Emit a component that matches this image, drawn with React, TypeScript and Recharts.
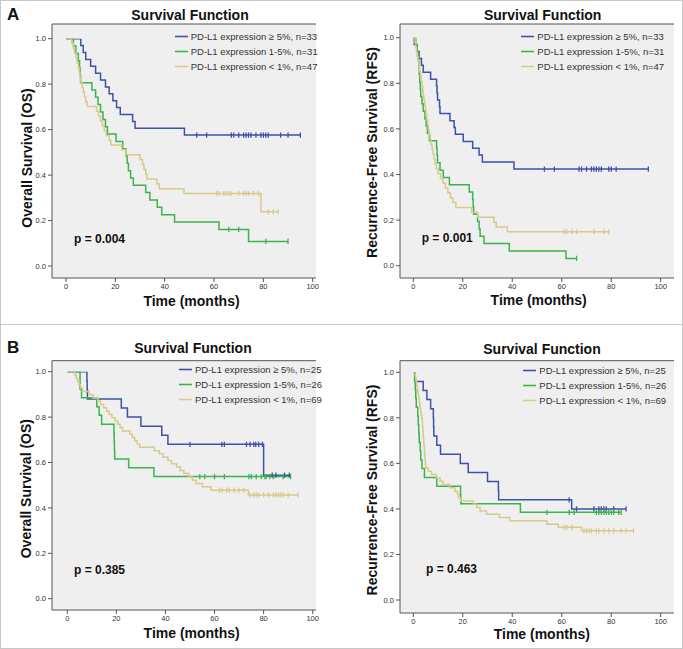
import React from 'react';
import { LineChart, Line, XAxis, YAxis, CartesianGrid, Legend, Label } from 'recharts';

const FONT = '"Liberation Sans", Arial, Helvetica, sans-serif';
const FRAME = '#555555';
const COLORS = ['#3d52a9', '#3cb44b', '#d6cb8d'];

const xTicks = [0, 20, 40, 60, 80, 100];
const yTicks = [0, 0.2, 0.4, 0.6, 0.8, 1.0];

const namesA = ['PD-L1 expression \u2265 5%, n=33', 'PD-L1 expression 1-5%, n=31', 'PD-L1 expression < 1%, n=47'];
const namesB = ['PD-L1 expression \u2265 5%, n=25', 'PD-L1 expression 1-5%, n=26', 'PD-L1 expression < 1%, n=69'];

// A: overall survival, [month, survival] after each event
const aOsHigh = [[0, 1], [6, 0.970], [7, 0.939], [8, 0.909], [10, 0.879], [12, 0.848], [14, 0.818], [16, 0.788], [17.5, 0.758], [19, 0.727], [20.5, 0.697], [22, 0.667], [27, 0.636], [28, 0.606], [48, 0.576]];
const aOsHighCens = [53, 57, 67, 68, 70, 72, 73, 74, 75, 77, 79, 80, 81, 82, 87, 90, 95];
const aOsMid = [[0, 1], [3, 0.968], [4, 0.935], [5, 0.903], [5.5, 0.871], [5.7, 0.839], [5.9, 0.806], [10.5, 0.774], [12, 0.742], [13, 0.710], [14, 0.677], [15, 0.645], [16, 0.613], [16.8, 0.581], [20.3, 0.548], [23, 0.516], [24.3, 0.484], [24.8, 0.452], [25.3, 0.419], [26.2, 0.387], [27.3, 0.355], [32.3, 0.323], [34, 0.290], [37, 0.258], [38.8, 0.226], [44, 0.194], [62, 0.161], [74, 0.108]];
const aOsMidCens = [66, 70, 81, 90];
const aOsLow = [[0, 1], [2.3, 0.979], [3, 0.957], [3.5, 0.936], [4, 0.915], [4.5, 0.894], [5, 0.872], [5.3, 0.851], [5.6, 0.830], [6, 0.809], [6.5, 0.787], [7, 0.766], [7.5, 0.745], [8, 0.723], [8.6, 0.702], [12.4, 0.681], [13.2, 0.660], [14, 0.638], [14.8, 0.617], [15.5, 0.596], [16.3, 0.574], [17.5, 0.553], [18.2, 0.532], [22.6, 0.511], [24.3, 0.489], [30, 0.468], [31, 0.447], [31.6, 0.426], [32.3, 0.404], [32.8, 0.383], [36.8, 0.362], [37.8, 0.340], [47.8, 0.319], [79, 0.239]];
const aOsLowCens = [61, 62, 64, 65, 66, 67, 70, 72, 73, 74, 76, 78, 82, 84, 86];

// A: recurrence-free survival
const aRfsHigh = [[0, 1], [0.3, 0.970], [1.5, 0.939], [2.3, 0.909], [3.3, 0.879], [4, 0.848], [7, 0.818], [9.4, 0.788], [9.6, 0.758], [9.8, 0.727], [10.6, 0.697], [10.8, 0.667], [14.8, 0.636], [16.5, 0.606], [17, 0.576], [20.2, 0.545], [24, 0.515], [26.6, 0.485], [27.9, 0.455], [40.7, 0.424]];
const aRfsHighCens = [53, 57, 67, 68, 70, 72, 73, 74, 75, 76, 79, 80, 82, 95];
const aRfsMid = [[0, 1], [1, 0.968], [1.5, 0.935], [2, 0.903], [2.2, 0.871], [2.4, 0.839], [2.6, 0.806], [2.8, 0.774], [3, 0.742], [3.5, 0.710], [4, 0.677], [4.7, 0.645], [5.2, 0.613], [5.7, 0.581], [6.5, 0.548], [9.4, 0.516], [9.6, 0.484], [9.8, 0.452], [10.8, 0.419], [12.1, 0.387], [14.6, 0.355], [22.6, 0.323], [24, 0.290], [24.2, 0.258], [24.4, 0.226], [26, 0.194], [26.6, 0.161], [27, 0.129], [28.6, 0.097], [38.8, 0.065], [61.7, 0.032]];
const aRfsMidCens = [66];
const aRfsLow = [[0, 1], [0.7, 0.979], [1, 0.957], [1.3, 0.936], [1.6, 0.915], [2, 0.894], [2.3, 0.872], [2.6, 0.851], [2.9, 0.830], [3.2, 0.809], [3.5, 0.787], [3.8, 0.766], [4, 0.745], [4.3, 0.723], [4.6, 0.702], [4.9, 0.681], [5.2, 0.660], [5.5, 0.638], [5.8, 0.617], [6.1, 0.596], [6.4, 0.574], [6.8, 0.553], [7.2, 0.532], [7.6, 0.511], [8, 0.489], [8.4, 0.468], [8.8, 0.447], [9.3, 0.426], [10, 0.404], [11, 0.383], [12, 0.362], [13, 0.340], [14, 0.319], [15, 0.298], [16, 0.277], [17.2, 0.255], [23.6, 0.234], [26, 0.213], [32.6, 0.191], [33.5, 0.170], [38, 0.149]];
const aRfsLowCens = [61, 62, 64, 66, 73, 77, 79];

// B: overall survival
const bOsHigh = [[0, 1], [8, 0.96], [8.1, 0.92], [8.2, 0.88], [22, 0.84], [24.5, 0.80], [30, 0.76], [38.5, 0.72], [41, 0.68], [80, 0.544]];
const bOsHighCens = [50, 63, 64, 73, 74.5, 76, 76.8, 78, 79.5, 83.5, 85, 88.5, 90.5];
const bOsMid = [[0, 1], [5.2, 0.923], [5.8, 0.885], [12, 0.846], [13, 0.808], [14, 0.769], [19, 0.731], [19.1, 0.692], [19.2, 0.654], [19.3, 0.615], [25, 0.577], [35.3, 0.538]];
const bOsMidCens = [54, 56, 60, 64, 74, 75, 77, 79, 80.5, 81, 82.5, 84, 88, 91];
const bOsLow = [[0, 1], [3, 0.986], [3.6, 0.971], [4.2, 0.957], [4.8, 0.942], [5.4, 0.928], [6.2, 0.913], [9, 0.899], [10.5, 0.884], [12.5, 0.870], [13.5, 0.855], [14.8, 0.841], [16, 0.826], [17, 0.812], [18.2, 0.797], [19.5, 0.783], [20.5, 0.768], [21.5, 0.754], [22.5, 0.739], [25.5, 0.725], [26.5, 0.710], [27.5, 0.696], [28.5, 0.681], [29.5, 0.667], [35.5, 0.652], [37.5, 0.638], [39, 0.623], [41, 0.609], [42.5, 0.594], [44.5, 0.580], [46, 0.565], [47.5, 0.551], [49.5, 0.536], [51, 0.522], [52.5, 0.507], [55, 0.493], [58.5, 0.478], [73.8, 0.457]];
const bOsLowCens = [62, 63, 65, 66, 68, 70, 72, 74.5, 76, 77, 78, 80, 82, 84, 85, 86, 87, 88, 90, 94];

// B: recurrence-free survival
const bRfsHigh = [[0, 1], [0.8, 0.96], [4, 0.92], [5.5, 0.88], [7, 0.84], [8.1, 0.80], [8.2, 0.76], [8.3, 0.72], [9.5, 0.68], [11, 0.64], [19, 0.60], [22.2, 0.56], [30, 0.52], [34.4, 0.48], [34.5, 0.44], [64, 0.40]];
const bRfsHighCens = [63, 66, 73, 75, 76, 77, 78, 81, 86];
const bRfsMid = [[0, 1], [0.5, 0.962], [0.8, 0.923], [1, 0.885], [1.2, 0.846], [1.8, 0.808], [2, 0.769], [2.2, 0.731], [2.4, 0.692], [2.8, 0.654], [3, 0.615], [3.5, 0.577], [4.5, 0.538], [9.5, 0.500], [19.1, 0.462], [19.2, 0.423], [43.3, 0.385]];
const bRfsMidCens = [54, 63, 65, 74, 75, 76, 77, 78, 79, 80, 81, 83, 84];
const bRfsLow = [[0, 1], [0.8, 0.986], [1, 0.971], [1.2, 0.957], [1.4, 0.942], [1.6, 0.928], [1.8, 0.913], [2, 0.899], [2.2, 0.884], [2.4, 0.870], [2.6, 0.855], [2.8, 0.841], [3, 0.826], [3.2, 0.812], [3.4, 0.797], [3.6, 0.783], [3.7, 0.768], [3.8, 0.754], [3.9, 0.739], [4, 0.725], [4.1, 0.710], [4.2, 0.696], [4.3, 0.681], [4.4, 0.667], [4.5, 0.652], [4.6, 0.638], [4.7, 0.623], [4.8, 0.609], [4.9, 0.594], [5.1, 0.580], [6, 0.565], [7.4, 0.551], [9.4, 0.536], [10.8, 0.522], [12, 0.507], [14.8, 0.493], [16.8, 0.478], [17.8, 0.464], [18.3, 0.449], [19.1, 0.435], [24.3, 0.420], [25.6, 0.406], [27, 0.391], [29.6, 0.377], [34.8, 0.362], [39, 0.348], [54, 0.333], [58.6, 0.319], [68, 0.304]];
const bRfsLowCens = [61, 62, 64, 69, 70, 71, 72, 74, 75, 77, 79, 81, 84, 86, 89];

type Pt = { t: number; s: number; c: boolean };

// merge events and censor times; a censored case sits at the current survival level
const km = (events: number[][], cens: number[]): Pt[] => {
  const pts: Pt[] = events.map(([t, s]) => ({ t, s, c: false }));
  cens.forEach((t) => {
    let s = 1;
    events.forEach(([et, es]) => {
      if (et <= t) s = es;
    });
    pts.push({ t, s, c: true });
  });
  return pts.sort((a, b) => a.t - b.t || Number(a.c) - Number(b.c));
};

const CensorMark = (props: any) => {
  const { cx, cy, payload, stroke, index } = props;
  if (!payload || !payload.c || cx == null) return <g key={index} />;
  return <line key={index} x1={cx} x2={cx} y1={cy - 2.6} y2={cy + 2.6} stroke={stroke} strokeWidth={1.3} />;
};

const tickStyle = { fontSize: 7.5, fill: '#333', fontFamily: FONT };
const bigLabel = { fontSize: 14, fontWeight: 700, fill: '#111', fontFamily: FONT, textAnchor: 'middle' as const };

const renderLegend = (names: string[]) => () => (
  <div style={{ fontFamily: FONT, fontSize: 9.5, color: '#333', lineHeight: '15px' }}>
    {names.map((n, i) => (
      <div key={n} style={{ display: 'flex', alignItems: 'center', whiteSpace: 'nowrap', height: 15 }}>
        <svg width={16} height={15}>
          <line x1={1} x2={14} y1={7.5} y2={7.5} stroke={COLORS[i]} strokeWidth={1.6} />
        </svg>
        <span style={{ marginLeft: 1 }}>{n}</span>
      </div>
    ))}
  </div>
);

const Panel = ({ cfg }: { cfg: any }) => (
  <div style={{ position: 'absolute', left: cfg.left, top: cfg.top, width: cfg.width, height: cfg.height }}>
    <LineChart width={cfg.width} height={cfg.height} margin={cfg.margin}>
      <CartesianGrid fill="#efefef" stroke="none" horizontal={false} vertical={false} />
      <XAxis
        type="number"
        dataKey="t"
        domain={[0, 100]}
        allowDataOverflow
        ticks={xTicks}
        interval={0}
        padding={cfg.xPad}
        height={34}
        tick={tickStyle}
        tickSize={4}
        tickLine={{ stroke: FRAME }}
        axisLine={{ stroke: FRAME }}
      >
        <Label value="Time (months)" position="center" dx={cfg.xl[0]} dy={cfg.xl[1]} style={bigLabel} />
      </XAxis>
      <XAxis
        xAxisId="top"
        orientation="top"
        type="number"
        dataKey="t"
        domain={[0, 100]}
        allowDataOverflow
        padding={cfg.xPad}
        height={cfg.topH}
        tick={false}
        tickLine={false}
        axisLine={{ stroke: FRAME }}
      >
        <Label value="Survival Function" position="center" dx={cfg.tl[0]} dy={cfg.tl[1]} style={bigLabel} />
      </XAxis>
      <YAxis
        type="number"
        domain={[0, 1]}
        allowDataOverflow
        ticks={yTicks}
        interval={0}
        padding={cfg.yPad}
        width={cfg.yW}
        tick={tickStyle}
        tickSize={4}
        tickFormatter={(v: number) => v.toFixed(1)}
        tickLine={{ stroke: FRAME }}
        axisLine={{ stroke: FRAME }}
      >
        <Label value={cfg.yLabel} angle={-90} position="center" dx={cfg.yl[0]} dy={cfg.yl[1]} style={bigLabel} />
      </YAxis>
      <YAxis
        yAxisId="right"
        orientation="right"
        type="number"
        domain={[0, 1]}
        width={0}
        tick={false}
        tickLine={false}
        axisLine={{ stroke: FRAME }}
      />
      <Legend
        layout="vertical"
        align="center"
        verticalAlign="middle"
        content={renderLegend(cfg.names)}
        wrapperStyle={{ left: cfg.legend[0], top: cfg.legend[1], width: 'auto', height: 'auto' }}
      />
      {cfg.series.map((d: Pt[], i: number) => (
        <Line
          key={i}
          data={d}
          dataKey="s"
          name={cfg.names[i]}
          type="stepAfter"
          stroke={COLORS[i]}
          strokeWidth={1.5}
          dot={<CensorMark />}
          activeDot={false}
          isAnimationActive={false}
        />
      ))}
    </LineChart>
    <div
      style={{
        position: 'absolute',
        left: cfg.p[0],
        top: cfg.p[1] - 7,
        lineHeight: '14px',
        fontFamily: FONT,
        fontWeight: 700,
        fontSize: 12,
        color: '#111',
      }}
    >
      {cfg.p[2]}
    </div>
  </div>
);

const panels = [
  {
    left: 0, top: 0, width: 340, height: 322,
    margin: { top: 0, right: 24, bottom: 10, left: 12 },
    topH: 24, yW: 40,
    xPad: { left: 14, right: 3.3 }, yPad: { top: 14.7, bottom: 12 },
    tl: [6, 3], xl: [7.5, 6], yl: [-5.3, 7],
    yLabel: 'Overall Survival (OS)',
    legend: [173.7, 28.5], names: namesA,
    p: [74, 239, 'p = 0.004'],
    series: [km(aOsHigh, aOsHighCens), km(aOsMid, aOsMidCens), km(aOsLow, aOsLowCens)],
  },
  {
    left: 340, top: 0, width: 343, height: 322,
    margin: { top: 0, right: 9, bottom: 10, left: 12 },
    topH: 24, yW: 48,
    xPad: { left: 13.3, right: 13.3 }, yPad: { top: 13.7, bottom: 12.3 },
    tl: [5.7, 3], xl: [1.7, 5], yl: [-4.3, 1.5],
    yLabel: 'Recurrence-Free Survival (RFS)',
    legend: [180.3, 28.5], names: namesA,
    p: [81.7, 238, 'p = 0.001'],
    series: [km(aRfsHigh, aRfsHighCens), km(aRfsMid, aRfsMidCens), km(aRfsLow, aRfsLowCens)],
  },
  {
    left: 0, top: 324, width: 340, height: 325,
    margin: { top: 0, right: 24, bottom: 5, left: 12 },
    topH: 36.7, yW: 40,
    xPad: { left: 15.3, right: 3.3 }, yPad: { top: 11, bottom: 11.3 },
    tl: [9, 6], xl: [7.7, 6.3], yl: [-6, 3.3],
    yLabel: 'Overall Survival (OS)',
    legend: [178, 37.8], names: namesB,
    p: [74, 246, 'p = 0.385'],
    series: [km(bOsHigh, bOsHighCens), km(bOsMid, bOsMidCens), km(bOsLow, bOsLowCens)],
  },
  {
    left: 340, top: 324, width: 343, height: 325,
    margin: { top: 0, right: 9, bottom: 2, left: 12 },
    topH: 36.7, yW: 48,
    xPad: { left: 13.3, right: 13.3 }, yPad: { top: 11.6, bottom: 13 },
    tl: [5, 7], xl: [4.8, 4.3], yl: [-4.3, 3.2],
    yLabel: 'Recurrence-Free Survival (RFS)',
    legend: [182.3, 39.2], names: namesB,
    p: [86, 245, 'p = 0.463'],
    series: [km(bRfsHigh, bRfsHighCens), km(bRfsMid, bRfsMidCens), km(bRfsLow, bRfsLowCens)],
  },
];

const letterStyle: React.CSSProperties = {
  position: 'absolute',
  left: 7,
  fontFamily: FONT,
  fontWeight: 700,
  fontSize: 17,
  lineHeight: '18px',
  color: '#111',
};

export default function App() {
  return (
    <div style={{ position: 'absolute', left: 0, top: 0, width: 683, height: 649, background: '#fff', overflow: 'hidden' }}>
      <div style={{ position: 'absolute', left: 0, top: 0, width: 683, height: 325, border: '1px solid #c8c8c8', boxSizing: 'border-box' }} />
      <div style={{ position: 'absolute', left: 0, top: 324, width: 683, height: 325, border: '1px solid #c8c8c8', boxSizing: 'border-box' }} />
      {panels.map((cfg, i) => (
        <Panel key={i} cfg={cfg} />
      ))}
      <div style={{ ...letterStyle, top: 5.5 }}>A</div>
      <div style={{ ...letterStyle, top: 339 }}>B</div>
    </div>
  );
}
